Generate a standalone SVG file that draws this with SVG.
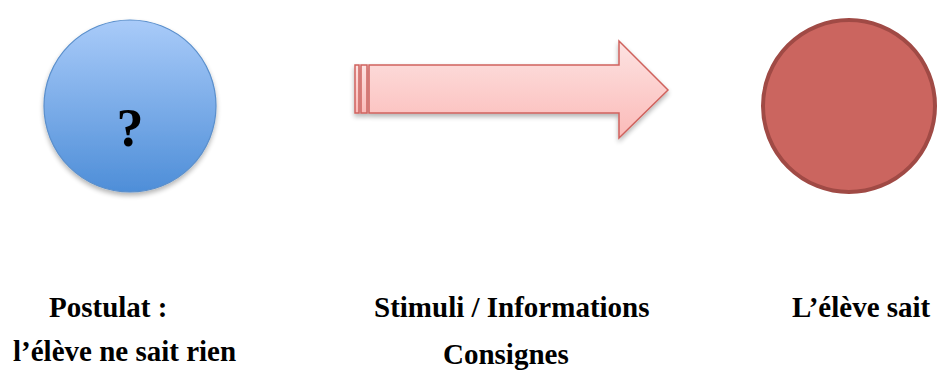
<svg xmlns="http://www.w3.org/2000/svg" width="937" height="371" viewBox="0 0 937 371">
  <defs>
    <linearGradient id="gBlue" x1="0" y1="0" x2="0" y2="1">
      <stop offset="0" stop-color="#a9cbf9"/>
      <stop offset="1" stop-color="#4e8ed8"/>
    </linearGradient>
    <linearGradient id="gPink" x1="0" y1="0" x2="0" y2="1">
      <stop offset="0" stop-color="#fde3e2"/>
      <stop offset="1" stop-color="#fbbab8"/>
    </linearGradient>
    <filter id="shadow" x="-20%" y="-20%" width="140%" height="150%">
      <feGaussianBlur in="SourceAlpha" stdDeviation="2.5"/>
      <feOffset dx="0" dy="3" result="b"/>
      <feComponentTransfer><feFuncA type="linear" slope="0.3"/></feComponentTransfer>
      <feMerge><feMergeNode/><feMergeNode in="SourceGraphic"/></feMerge>
    </filter>
  </defs>
  <style>
    .lbl { font-family: "Liberation Serif", "Times New Roman", serif; font-weight: bold; font-size: 29px; fill: #000; }
    .q { font-family: "Liberation Serif", "Times New Roman", serif; font-weight: bold; font-size: 54px; fill: #000; }
    .arrowpart { fill: url(#gPink); stroke: #cf625d; stroke-width: 1.5; }
  </style>

  <g id="node-start">
    <circle cx="130" cy="106" r="86" fill="url(#gBlue)" stroke="#5a8fcc" stroke-width="1.2" filter="url(#shadow)"/>
    <text class="q" x="130" y="146" text-anchor="middle">?</text>
  </g>

  <g id="connectors">
    <g filter="url(#shadow)">
      <rect class="arrowpart" x="355" y="65" width="4" height="48"/>
      <rect class="arrowpart" x="361" y="65" width="6" height="48"/>
      <path class="arrowpart" d="M369,65 L619,65 L619,41 L668,90 L619,138 L619,113 L369,113 Z"/>
    </g>
  </g>

  <g id="node-end">
    <circle cx="849" cy="106" r="86" fill="#cb655f" stroke="#a04a45" stroke-width="4"/>
  </g>

  <g id="labels">
    <text class="lbl" x="49" y="317">Postulat :</text>
    <text class="lbl" x="13" y="361">l’élève ne sait rien</text>
    <text class="lbl" x="374" y="317">Stimuli / Informations</text>
    <text class="lbl" x="443" y="364">Consignes</text>
    <text class="lbl" x="792" y="317">L’élève sait</text>
  </g>
</svg>
